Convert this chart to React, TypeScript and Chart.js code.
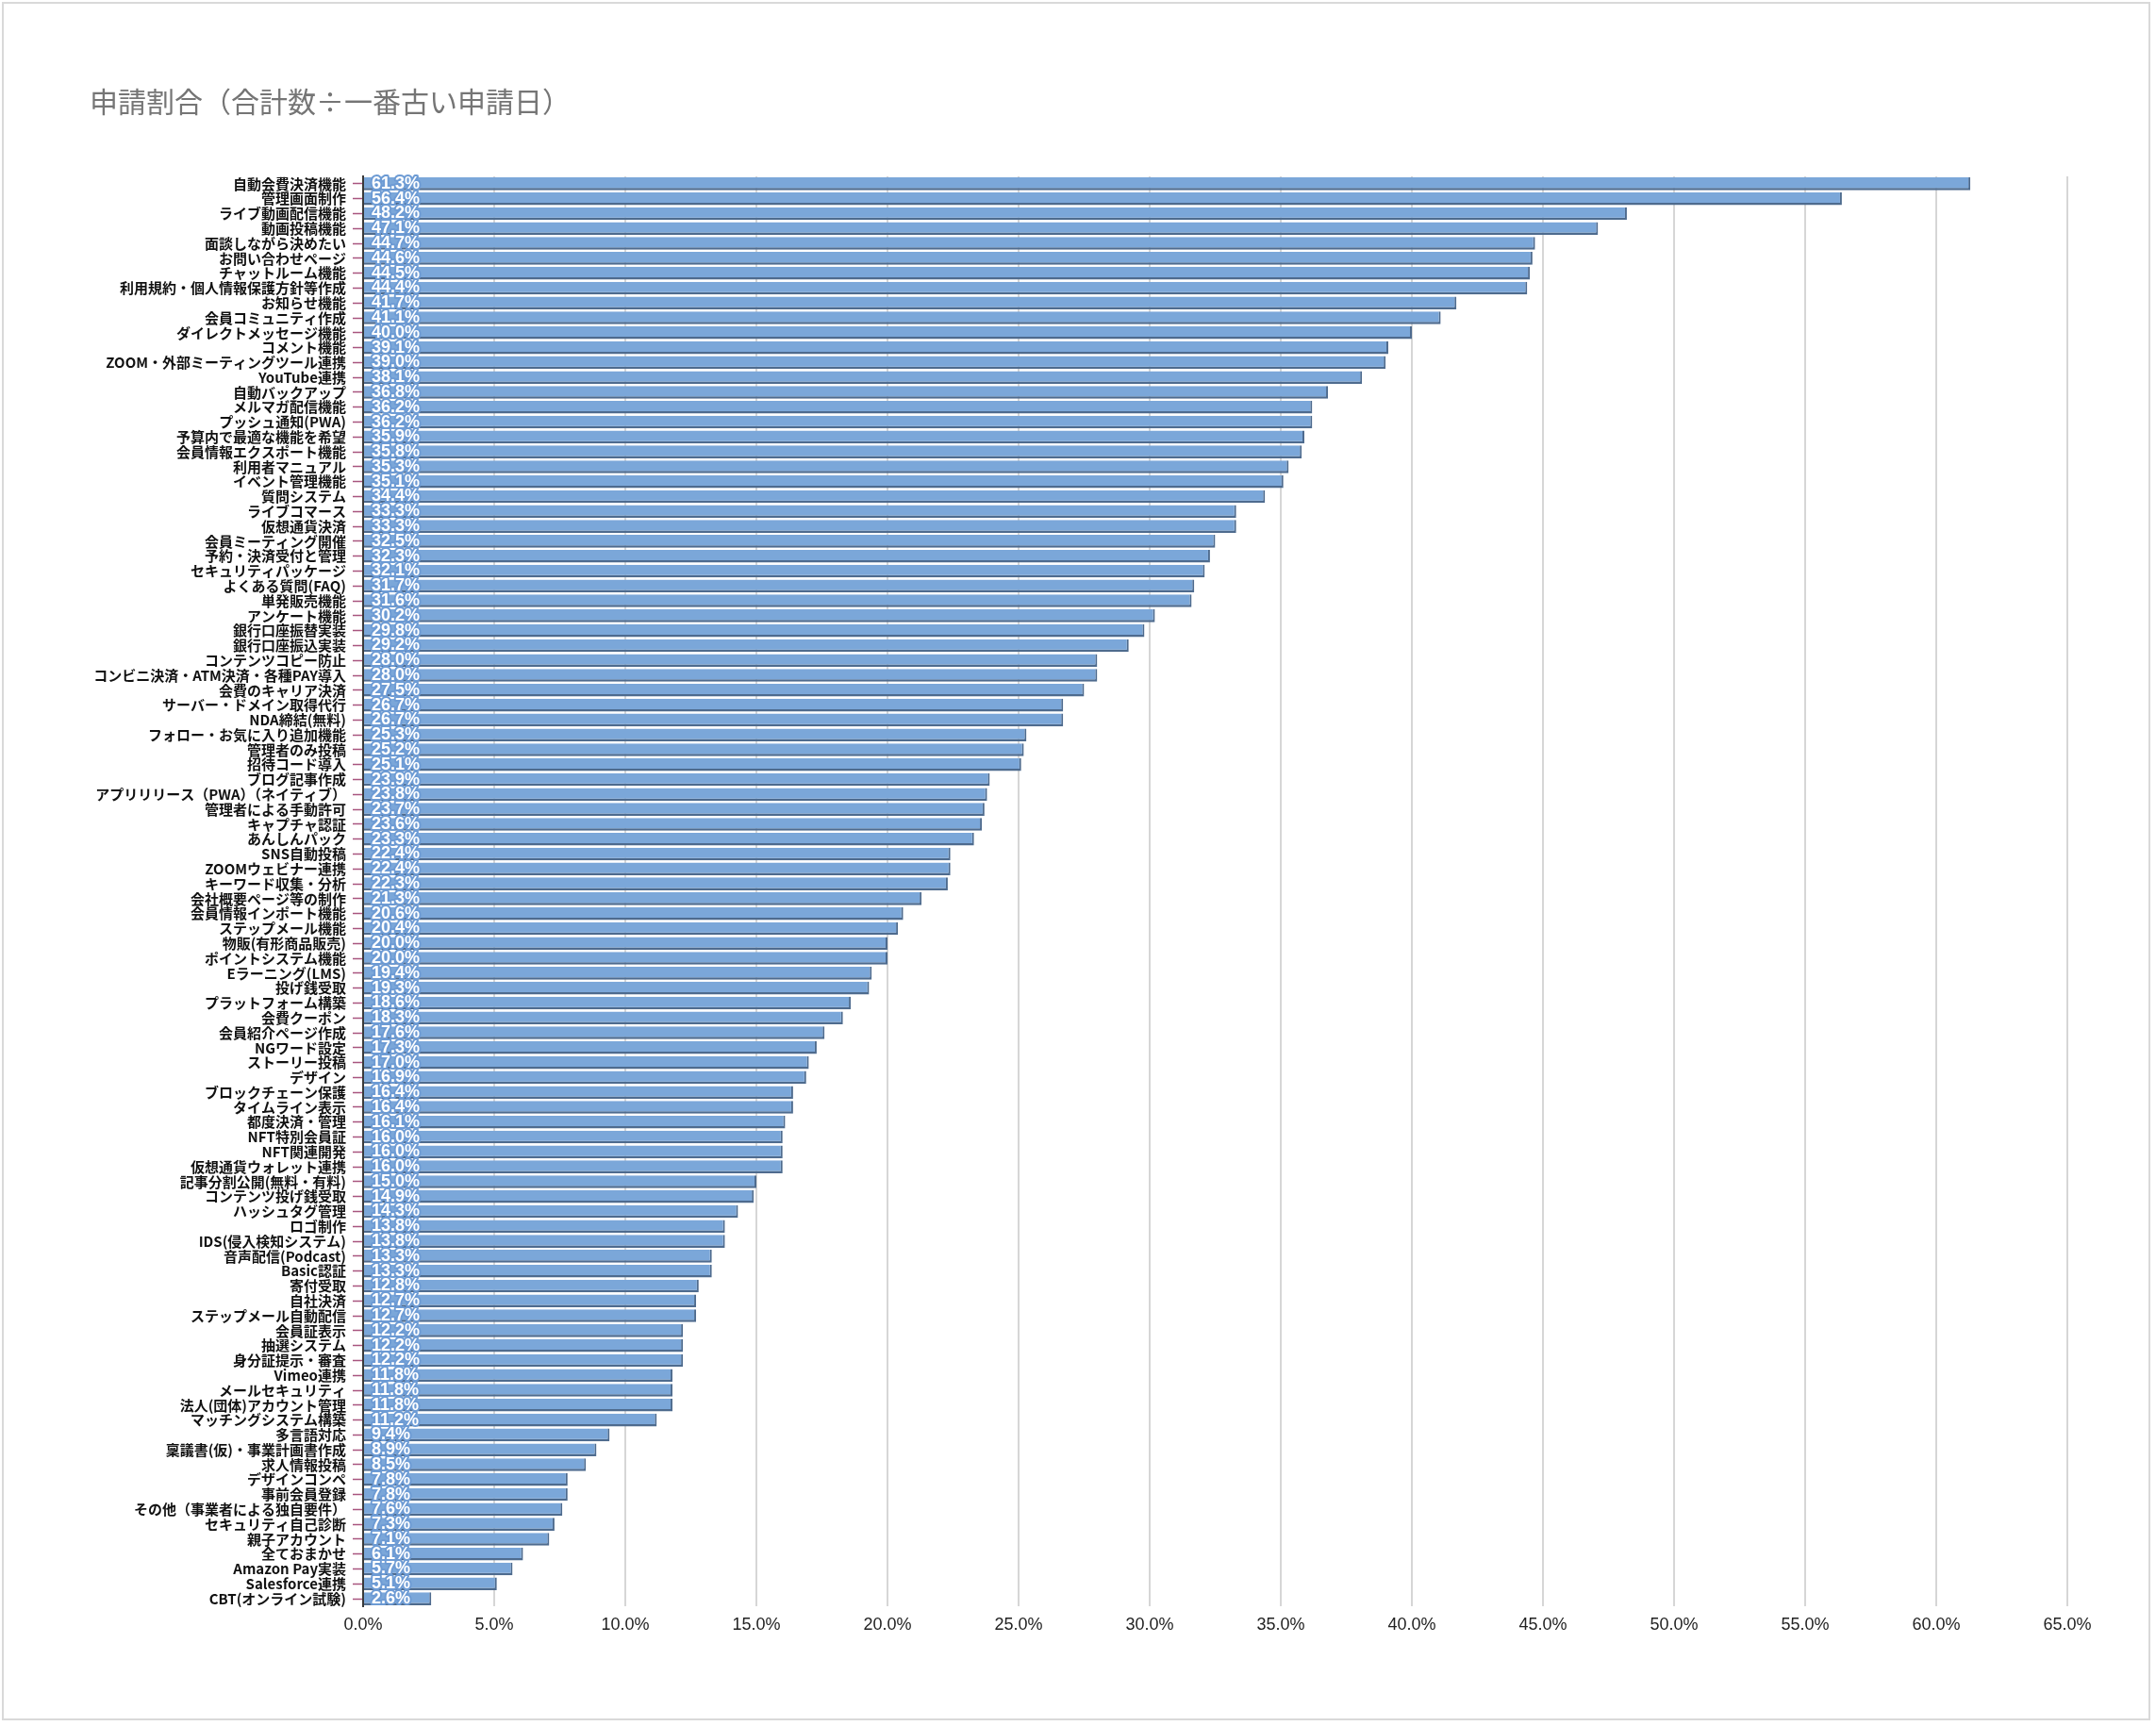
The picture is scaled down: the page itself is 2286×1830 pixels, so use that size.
import { useEffect, useRef } from "react";
import { Chart, ChartConfiguration, Plugin, registerables } from "chart.js";

Chart.register(...registerables);

const chartTitle = "申請割合（合計数÷一番古い申請日）";

const categories = [
  "自動会費決済機能", "管理画面制作", "ライブ動画配信機能", "動画投稿機能", "面談しながら決めたい",
  "お問い合わせページ", "チャットルーム機能", "利用規約・個人情報保護方針等作成", "お知らせ機能", "会員コミュニティ作成",
  "ダイレクトメッセージ機能", "コメント機能", "ZOOM・外部ミーティングツール連携", "YouTube連携", "自動バックアップ",
  "メルマガ配信機能", "プッシュ通知(PWA)", "予算内で最適な機能を希望", "会員情報エクスポート機能", "利用者マニュアル",
  "イベント管理機能", "質問システム", "ライブコマース", "仮想通貨決済", "会員ミーティング開催",
  "予約・決済受付と管理", "セキュリティパッケージ", "よくある質問(FAQ)", "単発販売機能", "アンケート機能",
  "銀行口座振替実装", "銀行口座振込実装", "コンテンツコピー防止", "コンビニ決済・ATM決済・各種PAY導入", "会費のキャリア決済",
  "サーバー・ドメイン取得代行", "NDA締結(無料)", "フォロー・お気に入り追加機能", "管理者のみ投稿", "招待コード導入",
  "ブログ記事作成", "アプリリリース（PWA）（ネイティブ）", "管理者による手動許可", "キャプチャ認証", "あんしんパック",
  "SNS自動投稿", "ZOOMウェビナー連携", "キーワード収集・分析", "会社概要ページ等の制作", "会員情報インポート機能",
  "ステップメール機能", "物販(有形商品販売)", "ポイントシステム機能", "Eラーニング(LMS)", "投げ銭受取",
  "プラットフォーム構築", "会費クーポン", "会員紹介ページ作成", "NGワード設定", "ストーリー投稿",
  "デザイン", "ブロックチェーン保護", "タイムライン表示", "都度決済・管理", "NFT特別会員証",
  "NFT関連開発", "仮想通貨ウォレット連携", "記事分割公開(無料・有料)", "コンテンツ投げ銭受取", "ハッシュタグ管理",
  "ロゴ制作", "IDS(侵入検知システム)", "音声配信(Podcast)", "Basic認証", "寄付受取",
  "自社決済", "ステップメール自動配信", "会員証表示", "抽選システム", "身分証提示・審査",
  "Vimeo連携", "メールセキュリティ", "法人(団体)アカウント管理", "マッチングシステム構築", "多言語対応",
  "稟議書(仮)・事業計画書作成", "求人情報投稿", "デザインコンペ", "事前会員登録", "その他（事業者による独自要件）",
  "セキュリティ自己診断", "親子アカウント", "全ておまかせ", "Amazon Pay実装", "Salesforce連携",
  "CBT(オンライン試験)",
];

const shareValues = [
  61.3, 56.4, 48.2, 47.1, 44.7,
  44.6, 44.5, 44.4, 41.7, 41.1,
  40.0, 39.1, 39.0, 38.1, 36.8,
  36.2, 36.2, 35.9, 35.8, 35.3,
  35.1, 34.4, 33.3, 33.3, 32.5,
  32.3, 32.1, 31.7, 31.6, 30.2,
  29.8, 29.2, 28.0, 28.0, 27.5,
  26.7, 26.7, 25.3, 25.2, 25.1,
  23.9, 23.8, 23.7, 23.6, 23.3,
  22.4, 22.4, 22.3, 21.3, 20.6,
  20.4, 20.0, 20.0, 19.4, 19.3,
  18.6, 18.3, 17.6, 17.3, 17.0,
  16.9, 16.4, 16.4, 16.1, 16.0,
  16.0, 16.0, 15.0, 14.9, 14.3,
  13.8, 13.8, 13.3, 13.3, 12.8,
  12.7, 12.7, 12.2, 12.2, 12.2,
  11.8, 11.8, 11.8, 11.2, 9.4,
  8.9, 8.5, 7.8, 7.8, 7.6,
  7.3, 7.1, 6.1, 5.7, 5.1,
  2.6,
];

const axisMax = 65;
const axisStep = 5;

const W = 2286;
const H = 1830;
const CJK = "'Noto Sans CJK JP', 'Noto Sans', sans-serif";

// white value labels with a blue halo, sitting at the start of each bar
const valueLabels: Plugin<"bar"> = {
  id: "valueLabels",
  afterDatasetsDraw(chart) {
    const ctx = chart.ctx;
    const meta = chart.getDatasetMeta(0);
    ctx.save();
    ctx.font = "bold 18px 'Liberation Sans', Arial, sans-serif";
    ctx.textAlign = "left";
    ctx.textBaseline = "middle";
    ctx.lineJoin = "round";
    meta.data.forEach((bar: any, i: number) => {
      const text = shareValues[i].toFixed(1) + "%";
      const x = bar.base + 8;
      const y = bar.y;
      ctx.lineWidth = 4;
      ctx.strokeStyle = "#6d9bd4";
      ctx.strokeText(text, x, y);
      ctx.fillStyle = "#ffffff";
      ctx.fillText(text, x, y);
    });
    ctx.restore();
  },
};

function ShareChart() {
  const chartRef = useRef<HTMLCanvasElement | null>(null);
  const chartInstanceRef = useRef<Chart<"bar", number[], string> | null>(null);

  useEffect(() => {
    const canvas = chartRef.current;
    if (!canvas) return;
    const ctx = canvas.getContext("2d");
    if (!ctx) return;

    if (chartInstanceRef.current) {
      chartInstanceRef.current.destroy();
    }

    const config: ChartConfiguration<"bar", number[], string> = {
      type: "bar",
      data: {
        labels: categories,
        datasets: [
          {
            data: shareValues,
            backgroundColor: "#7ba7d9",
            borderColor: "#4e6b8e",
            borderWidth: { top: 0, left: 0, bottom: 2.5, right: 2 },
            borderSkipped: false,
            barPercentage: 1,
            categoryPercentage: 0.86,
          },
        ],
      },
      options: {
        indexAxis: "y",
        responsive: false,
        animation: false,
        devicePixelRatio: 1,
        layout: {
          padding: { top: 90, left: 95, right: 94, bottom: 80 },
        },
        scales: {
          x: {
            min: 0,
            max: axisMax,
            border: { display: false },
            grid: {
              color: "#d6d6d6",
              lineWidth: 2,
              drawTicks: false,
            },
            ticks: {
              stepSize: axisStep,
              padding: 9,
              color: "#222222",
              font: { family: "'Liberation Sans Narrow', 'Liberation Sans', Arial, sans-serif", size: 18 },
              callback: (v) => Number(v).toFixed(1) + "%",
            },
            afterFit: (scale) => {
              scale.height = H - 80 - 1703;
            },
          },
          y: {
            border: { display: true, color: "#3a3a3a", width: 2 },
            grid: {
              offset: false,
              drawOnChartArea: false,
              drawTicks: true,
              tickLength: 11,
              tickColor: "#a8557f",
              tickWidth: 1.5,
            },
            ticks: {
              autoSkip: false,
              padding: 7,
              color: "#111111",
              font: { family: CJK, size: 15, weight: "bold" },
            },
            afterFit: (scale) => {
              scale.width = 290;
            },
          },
        },
        plugins: {
          legend: { display: false },
          tooltip: { enabled: false },
          title: {
            display: true,
            text: chartTitle,
            align: "start",
            color: "#757575",
            font: { family: CJK, size: 30, weight: "normal" },
            padding: { top: 0, bottom: 61 },
          },
        },
      },
      plugins: [valueLabels],
    };

    chartInstanceRef.current = new Chart(ctx, config);

    return () => {
      if (chartInstanceRef.current) {
        chartInstanceRef.current.destroy();
        chartInstanceRef.current = null;
      }
    };
  }, []);

  return (
    <div style={{ position: "absolute", left: 0, top: 0, width: W, height: H, background: "#ffffff" }}>
      <canvas ref={chartRef} width={W} height={H} style={{ width: W, height: H, display: "block" }} />
      <div
        style={{
          position: "absolute",
          left: 2,
          top: 2,
          width: 2278,
          height: 1822,
          border: "2px solid #d9d9d9",
          boxSizing: "border-box",
          pointerEvents: "none",
        }}
      />
    </div>
  );
}

export default function App() {
  return <ShareChart />;
}
